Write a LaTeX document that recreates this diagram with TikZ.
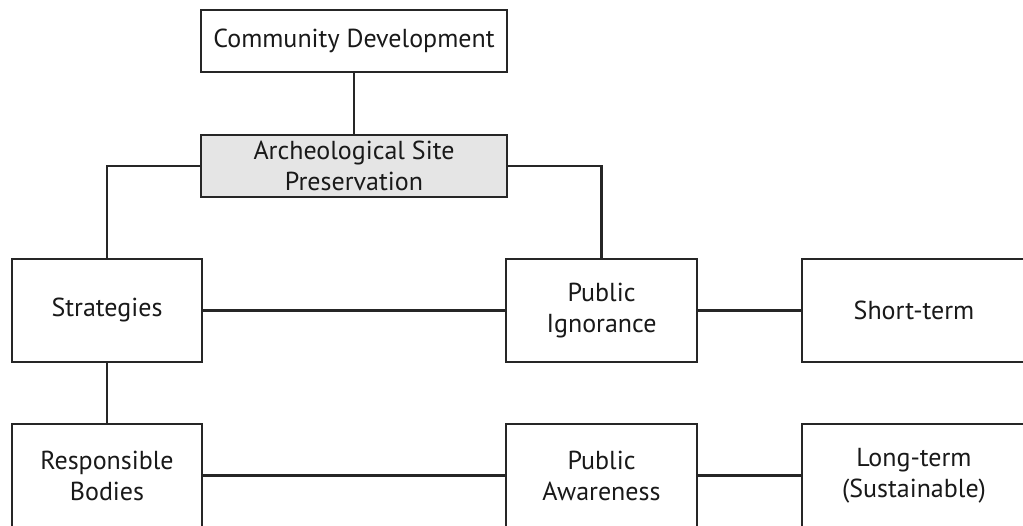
\documentclass[tikz,border=0pt]{standalone}
\usepackage{fontspec}
\setmainfont{PT Sans}
\begin{document}
\begin{tikzpicture}[x=1pt,y=-1pt,
  box/.style={draw=black!85, line width=2.2pt, fill=white, align=center, inner sep=0pt,
    font=\fontsize{26}{31}\selectfont, text=black!90},
  link/.style={draw=black!85, line width=2.2pt}]
\clip (0,0) rectangle (1023,526);
\fill[white] (0,0) rectangle (1023,526);
\node[box, minimum width=306pt, minimum height=62pt] (cd) at (354,41) {Community Development};
\node[box, minimum width=306pt, minimum height=62pt, fill=black!10] (asp) at (354,166) {Archeological Site\\Preservation};
\node[box, minimum width=190pt, minimum height=103pt] (st) at (107,310.5) {Strategies};
\node[box, minimum width=191pt, minimum height=103pt] (pi) at (601.5,310.5) {Public\\Ignorance};
\node[box, minimum width=224pt, minimum height=103pt] (sh) at (914,310.5) {Short-term};
\node[box, minimum width=190pt, minimum height=103pt] (rb) at (107,475.5) {Responsible\\Bodies};
\node[box, minimum width=191pt, minimum height=103pt] (pa) at (601.5,475.5) {Public\\Awareness};
\node[box, minimum width=224pt, minimum height=103pt] (lt) at (914,475.5) {Long-term\\(Sustainable)};
\draw[link] (cd.south) -- (asp.north);
\draw[link] (asp.west) -| (st.north);
\draw[link] (asp.east) -| (pi.north);
\draw[link] (st.east) -- (pi.west);
\draw[link] (pi.east) -- (sh.west);
\draw[link] (st.south) -- (rb.north);
\draw[link] (rb.east) -- (pa.west);
\draw[link] (pa.east) -- (lt.west);
\end{tikzpicture}
\end{document}
